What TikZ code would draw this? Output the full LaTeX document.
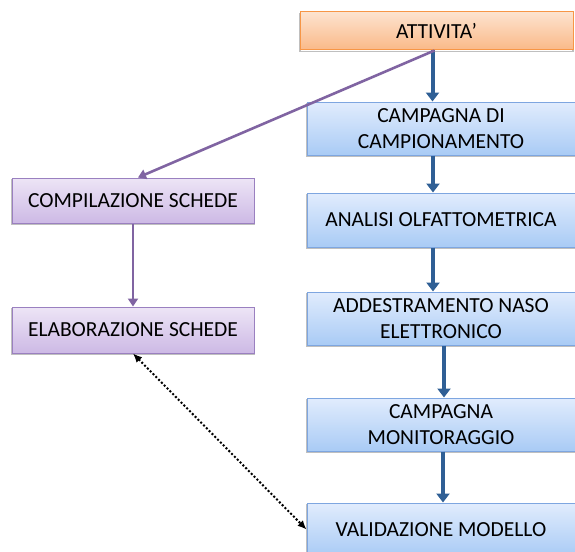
\documentclass[tikz,border=0pt]{standalone}
\usepackage{fontspec}
\setmainfont{Carlito}
\usetikzlibrary{arrows.meta,calc}
\definecolor{orbord}{HTML}{F79646}
\definecolor{ortop}{HTML}{FDE3CF}
\definecolor{orbot}{HTML}{FAB988}
\definecolor{blbord}{HTML}{7EA6E0}
\definecolor{bltop}{HTML}{E1ECFD}
\definecolor{blbot}{HTML}{A9CBF5}
\definecolor{pubord}{HTML}{9A80C0}
\definecolor{putop}{HTML}{EDE5F6}
\definecolor{pubot}{HTML}{CDB9E5}
\definecolor{arblue}{HTML}{2F5F95}
\definecolor{arpurple}{HTML}{8064A2}
\tikzset{
  boxbase/.style={rectangle, draw, line width=1pt, align=center, font=\fontsize{21.5}{25.5}\selectfont, inner sep=0pt,
    preaction={draw=black!25, line width=1.5pt, transform canvas={yshift=-1.5pt}}},
  orbox/.style={boxbase, draw=orbord, top color=ortop, bottom color=orbot},
  blbox/.style={boxbase, draw=blbord, top color=bltop, bottom color=blbot},
  pubox/.style={boxbase, draw=pubord, top color=putop, bottom color=pubot},
  bluearrow/.style={draw=arblue, line width=4pt, -{Triangle[width=13pt,length=9pt]}},
  purplearrow/.style={draw=arpurple, line width=2.6pt, -{Triangle[width=10pt,length=8pt]}},
  dotarrow/.style={draw=black, line width=2pt, dotted, {Latex[length=9pt,width=8pt]}-{Latex[length=9pt,width=8pt]}}
}
\begin{document}
\begin{tikzpicture}[x=1pt,y=1pt]
\useasboundingbox (0,0) rectangle (575,-551);
\node[orbox, minimum width=273pt, minimum height=38pt] (att) at (436.5,-31) {ATTIVITA’};
\node[blbox, minimum width=268pt, minimum height=53pt] (camp) at (441,-128.5) {CAMPAGNA DI\\CAMPIONAMENTO};
\node[blbox, minimum width=268pt, minimum height=54pt] (anal) at (441,-220) {ANALISI OLFATTOMETRICA};
\node[blbox, minimum width=268pt, minimum height=53pt] (add) at (441,-318.5) {ADDESTRAMENTO NASO\\ELETTRONICO};
\node[blbox, minimum width=268pt, minimum height=53pt] (mon) at (441,-424.5) {CAMPAGNA\\MONITORAGGIO};
\node[blbox, minimum width=268pt, minimum height=53pt] (val) at (441,-529.5) {VALIDAZIONE MODELLO};
\node[pubox, minimum width=242pt, minimum height=45pt] (comp) at (133,-200.5) {COMPILAZIONE SCHEDE};
\node[pubox, minimum width=242pt, minimum height=46pt] (elab) at (133,-330) {ELABORAZIONE SCHEDE};

\draw[bluearrow] ([xshift=-4pt]att.south) -- ([xshift=-4pt]att.south |- camp.north);
\draw[bluearrow] ([xshift=-8pt]camp.south) -- ([xshift=-8pt]camp.south |- anal.north);
\draw[bluearrow] ([xshift=-8pt]anal.south) -- ([xshift=-8pt]anal.south |- add.north);
\draw[bluearrow] ([xshift=3pt]add.south) -- ([xshift=3pt]add.south |- mon.north);
\draw[bluearrow] ([xshift=2pt]mon.south) -- ([xshift=2pt]mon.south |- val.north);
\draw[purplearrow] ([xshift=-2pt]att.south) -- ([xshift=5pt]comp.north);
\draw[purplearrow] (comp.south) -- (elab.north);
\draw[dotarrow] (elab.south) -- (val.west);
\end{tikzpicture}
\end{document}
